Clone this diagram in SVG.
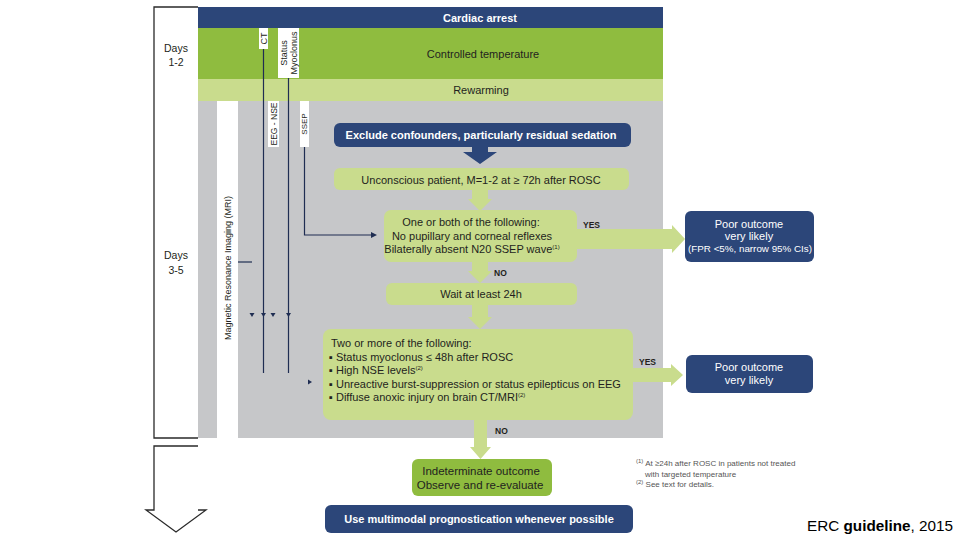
<svg xmlns="http://www.w3.org/2000/svg" width="960" height="540" viewBox="0 0 960 540">
<style>
 text { font-family: "Liberation Sans", Arial, sans-serif; }
 .navy { fill:#2c4679; }
 .lg { fill:#c9dc8d; }
 .dg { fill:#8fbc3f; }
 .gray { fill:#c6c7c9; }
 .t { font-size:11px; fill:#231f20; }
 .tw { font-size:11px; fill:#ffffff; }
 .b { font-weight:bold; }
 .c { text-anchor:middle; }
 .ln { stroke:#1f2d52; stroke-width:1.2; fill:none; }
 .tri { fill:#1f2d52; }
 .lab { fill:#ffffff; }
 .vt { font-size:9px; fill:#231f20; text-anchor:middle; dominant-baseline:central; }
 .yn { font-size:8.5px; font-weight:bold; fill:#231f20; }
 .fn { font-size:8px; fill:#555555; }
 .sup { font-size:6px; }
 .br { stroke:#2a2a2a; stroke-width:1.3; fill:none; }
</style>
<rect width="960" height="540" fill="#ffffff"/>

<g id="timeline">
 <path class="br" d="M198,7 H154 V438 H198"/>
 <path class="br" d="M198,446 H154 V510 H146 L176,532 L206,510 H198"/>
 <text class="t c" x="176" y="52" style="font-size:10.5px">Days</text>
 <text class="t c" x="176" y="66" style="font-size:10.5px">1-2</text>
 <text class="t c" x="176" y="259" style="font-size:10.5px">Days</text>
 <text class="t c" x="176" y="274" style="font-size:10.5px">3-5</text>
</g>

<g id="phases">
 <rect class="navy" x="198" y="7" width="465" height="21"/>
 <text class="tw b c" x="480" y="21.5">Cardiac arrest</text>
 <rect class="dg" x="198" y="28" width="465" height="51"/>
 <text class="t c" x="483" y="57.5">Controlled temperature</text>
 <rect class="lg" x="198" y="79" width="465" height="22"/>
 <text class="t c" x="481" y="94">Rewarming</text>
 <rect class="gray" x="198" y="101" width="465" height="337"/>
</g>

<g id="tests">
 <rect class="lab" x="217" y="101" width="21" height="337"/>
 <text class="vt" transform="rotate(-90 228 268)" x="228" y="268">Magnetic Resonance Imaging (MRI)</text>
 <rect class="lab" x="259" y="28" width="9" height="21"/>
 <text class="vt" transform="rotate(-90 263.5 38.5)" x="263.5" y="38.5">CT</text>
 <rect class="lab" x="278" y="28" width="21" height="50"/>
 <text class="vt" transform="rotate(-90 283.5 53)" x="283.5" y="53">Status</text>
 <text class="vt" transform="rotate(-90 293.5 53)" x="293.5" y="53">Myoclonus</text>
 <rect class="lab" x="268" y="101" width="11" height="46"/>
 <text class="vt" style="font-size:8.5px" transform="rotate(-90 273.5 124)" x="273.5" y="124">EEG - NSE</text>
 <rect class="lab" x="300" y="101" width="9" height="46"/>
 <text class="vt" style="font-size:8px" transform="rotate(-90 304.5 124)" x="304.5" y="124">SSEP</text>
</g>

<g id="connectors">
 <line class="ln" x1="263.5" y1="49" x2="263.5" y2="373"/>
 <line class="ln" x1="288.5" y1="78" x2="288.5" y2="373"/>
 <polyline class="ln" points="304.5,147 304.5,235 372,235"/>
 <polygon class="tri" points="371,232 377,235 371,238"/>
 <line class="ln" x1="238" y1="262" x2="252" y2="262"/>
 <polygon class="tri" points="249.5,313 254.5,313 252,317"/>
 <polygon class="tri" points="261,313 266,313 263.5,317"/>
 <polygon class="tri" points="270.5,313 275.5,313 273,317"/>
 <polygon class="tri" points="286,313 291,313 288.5,317"/>
 <polygon class="tri" points="308,379.5 312,382 308,384.5"/>
 <polygon class="navy" points="472,147 488,147 488,152 497,152 480,164 463,152 472,152"/>
 <polygon class="lg" points="472,190 488,190 488,199 492,199 480,211 468,199 472,199"/>
 <polygon class="lg" points="472,262 488,262 488,271 492,271 480,283 468,271 472,271"/>
 <polygon class="lg" points="472,305 488,305 488,317 492,317 480,329 468,317 472,317"/>
 <polygon class="lg" points="474,420 487,420 487,447 491,447 480.5,459 470,447 474,447"/>
 <polygon class="lg" points="577,229 672,229 672,225 685,239 672,253 672,249 577,249"/>
 <polygon class="lg" points="633,368 671,368 671,364 683,375 671,386 671,382 633,382"/>
 <text class="yn" x="583" y="228">YES</text>
 <text class="yn" x="494" y="276">NO</text>
 <text class="yn" x="639" y="365">YES</text>
 <text class="yn" x="495" y="434">NO</text>
</g>

<g id="exclude">
 <rect class="navy" x="334" y="123" width="297" height="24" rx="6"/>
 <text class="tw b c" x="481" y="139">Exclude confounders, particularly residual sedation</text>
</g>

<g id="unconscious">
 <rect class="lg" x="334" y="168" width="295" height="22" rx="6"/>
 <text class="t c" x="481" y="184">Unconscious patient,  M=1-2 at ≥ 72h after ROSC</text>
</g>

<g id="one-or-both">
 <rect class="lg" x="384" y="210" width="193" height="52" rx="7"/>
 <text class="t c" x="471" y="226">One or both of the following:</text>
 <text class="t c" x="472" y="239.5">No pupillary and corneal reflexes</text>
 <text class="t c" x="472" y="253">Bilaterally absent N20 SSEP wave<tspan class="sup" dy="-4">(1)</tspan></text>
</g>

<g id="poor1">
 <rect class="navy" x="685" y="211" width="129" height="51" rx="6"/>
 <text class="tw c" x="749" y="228">Poor outcome</text>
 <text class="tw c" x="749" y="240">very likely</text>
 <text class="tw c" x="750" y="252" style="font-size:9.8px">(FPR &lt;5%, narrow 95% CIs)</text>
</g>

<g id="wait">
 <rect class="lg" x="386" y="283" width="191" height="22" rx="6"/>
 <text class="t c" x="481" y="298">Wait at least 24h</text>
</g>

<g id="two-or-more">
 <rect class="lg" x="323" y="329" width="310" height="91" rx="8"/>
 <text class="t" x="331" y="347">Two or more of the following:</text>
 <text class="t" x="329" y="360.5">▪ Status myoclonus ≤ 48h after ROSC</text>
 <text class="t" x="329" y="374">▪ High  NSE levels<tspan class="sup" dy="-4">(2)</tspan></text>
 <text class="t" x="329" y="387.5">▪ Unreactive burst-suppression or status epilepticus on EEG</text>
 <text class="t" x="329" y="401">▪ Diffuse anoxic injury on brain CT/MRI<tspan class="sup" dy="-4">(2)</tspan></text>
</g>

<g id="poor2">
 <rect class="navy" x="686" y="355" width="127" height="38" rx="6"/>
 <text class="tw c" x="749" y="371">Poor outcome</text>
 <text class="tw c" x="749" y="384">very likely</text>
</g>

<g id="indeterminate">
 <rect class="dg" x="412" y="459" width="140" height="37" rx="6"/>
 <text class="t c" style="font-size:11.5px" x="481" y="475">Indeterminate outcome</text>
 <text class="t c" style="font-size:11.5px" x="480" y="489">Observe and re-evaluate</text>
</g>

<g id="multimodal">
 <rect class="navy" x="325" y="505" width="308" height="28" rx="6"/>
 <text class="tw b c" x="479" y="523">Use multimodal prognostication whenever possible</text>
</g>

<g id="footnotes">
 <text class="fn" x="636" y="466"><tspan class="sup" dy="-3">(1)</tspan><tspan dy="3"> At ≥24h after ROSC in patients not treated</tspan></text>
 <text class="fn" x="645" y="477">with targeted temperature</text>
 <text class="fn" x="636" y="487"><tspan class="sup" dy="-3">(2)</tspan><tspan dy="3"> See text for details.</tspan></text>
</g>

<g id="source">
 <text x="807" y="531" style="font-size:15px; fill:#000000" textLength="146" lengthAdjust="spacingAndGlyphs">ERC <tspan font-weight="bold">guideline</tspan>, 2015</text>
</g>
</svg>
